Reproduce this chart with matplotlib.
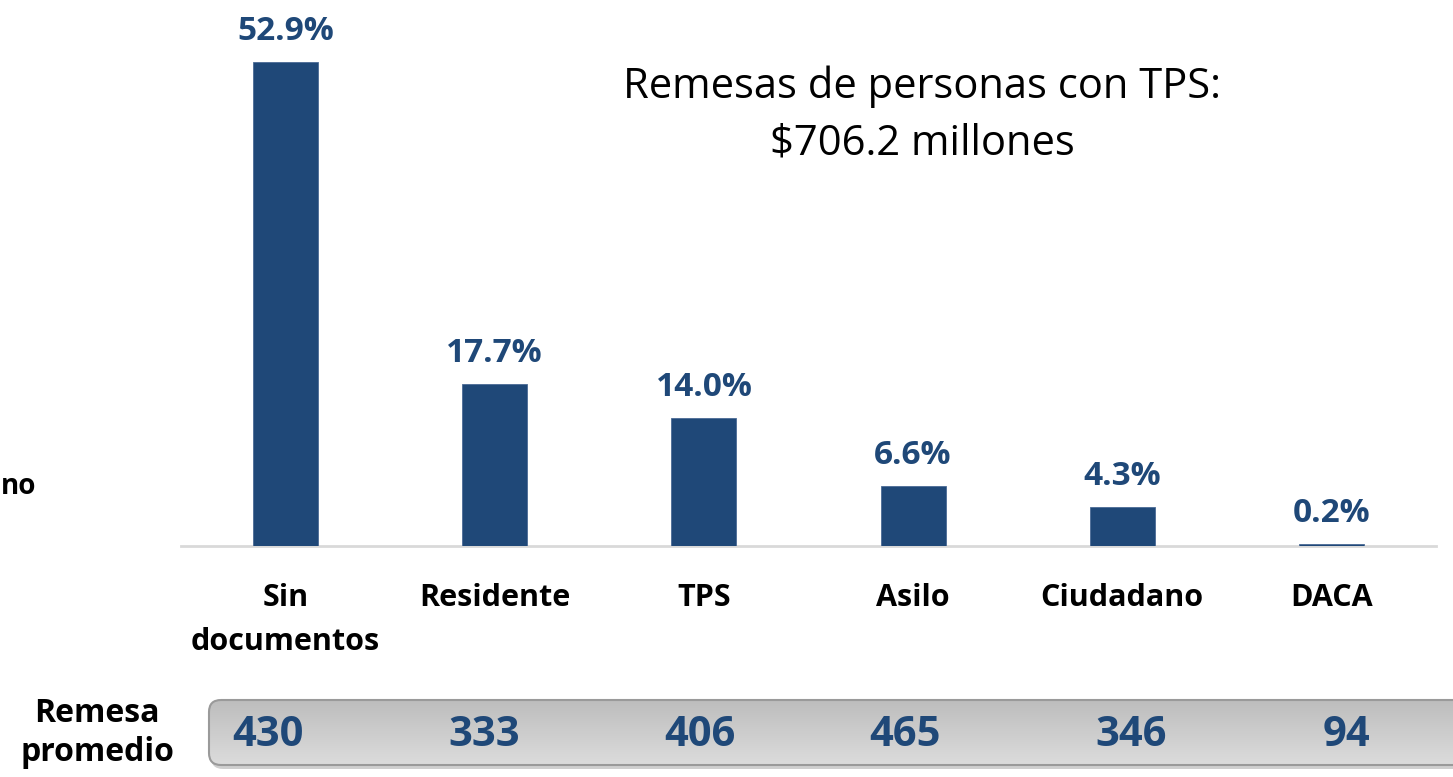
import matplotlib
matplotlib.use("Agg")
import matplotlib.pyplot as plt
import numpy as np
from matplotlib.patches import FancyBboxPatch
from matplotlib.colors import LinearSegmentedColormap

categories = ["Sin\ndocumentos", "Residente", "TPS", "Asilo", "Ciudadano", "DACA"]
shares = [52.9, 17.7, 14.0, 6.6, 4.3, 0.2]
share_labels = ["52.9%", "17.7%", "14.0%", "6.6%", "4.3%", "0.2%"]
avg_remit = [430, 333, 406, 465, 346, 94]
note = "Remesas de personas con TPS:\n$706.2 millones"

W, H = 1453, 777
BLUE = "#1F4878"
FONT = "Open Sans"
plt.rcParams["font.family"] = [FONT, "DejaVu Sans"]

fig = plt.figure(figsize=(W / 100, H / 100), dpi=100)
fig.patch.set_facecolor("white")

# main bar axes (pixel layout)
ax_left, ax_right, ax_base = 181, 1436, 546
ax = fig.add_axes([ax_left / W, (H - ax_base) / H, (ax_right - ax_left) / W, ax_base / H])
ax.set_facecolor("none")
x = np.arange(len(categories))
ax.bar(x, shares, width=0.31, color=BLUE, edgecolor="#4a6a95", linewidth=0.6, zorder=3)
ax.set_xlim(-0.5, len(categories) - 0.5)
ax.set_ylim(0, ax_base / 9.15)
for s in ["top", "right", "left"]:
    ax.spines[s].set_visible(False)
ax.spines["bottom"].set_color("#d9d9d9")
ax.spines["bottom"].set_linewidth(2)
ax.set_yticks([])
ax.set_xticks(x)
ax.set_xticklabels(categories, fontsize=22, fontweight="bold", color="black",
                   linespacing=1.6, va="top")
ax.tick_params(axis="x", length=0, pad=27)
for xi, v, lab in zip(x, shares, share_labels):
    ax.annotate(lab, (xi, v), xytext=(0, 10), textcoords="offset points",
                ha="center", va="bottom", fontsize=24, fontweight="bold", color=BLUE)

# overlay axes in pixel coordinates
ov = fig.add_axes([0, 0, 1, 1])
ov.set_xlim(0, W)
ov.set_ylim(H, 0)
ov.axis("off")
ov.set_facecolor("none")

ov.text(922, 115, note, ha="center", va="center", fontsize=30, color="black",
        linespacing=1.45)
ov.text(1, 486, "no", ha="left", va="center", fontsize=20, fontweight="bold", color="black")
ov.text(97, 733, "Remesa\npromedio", ha="center", va="center", fontsize=23,
        fontweight="bold", color="black", linespacing=1.25)

# rounded gray box with gradient and shadow
bx0, by0, bx1, by1 = 209, 700, 1480, 765
shadow = FancyBboxPatch((bx0 + 2, by0 + 4), bx1 - bx0, by1 - by0,
                        boxstyle="round,pad=0,rounding_size=12",
                        facecolor="#b0b0b0", edgecolor="none", alpha=0.6, zorder=1)
ov.add_patch(shadow)
box = FancyBboxPatch((bx0, by0), bx1 - bx0, by1 - by0,
                     boxstyle="round,pad=0,rounding_size=12",
                     facecolor="none", edgecolor="#9a9a9a", linewidth=1.5, zorder=3)
ov.add_patch(box)
grad = np.linspace(0, 1, 256).reshape(-1, 1)
cmap = LinearSegmentedColormap.from_list("g", ["#bdbdbd", "#dcdcdc"])
im = ov.imshow(grad, cmap=cmap, extent=(bx0, bx1, by1, by0), aspect="auto", zorder=2)
im.set_clip_path(box)
ov.set_xlim(0, W)
ov.set_ylim(H, 0)

num_x = [268, 484, 700, 905, 1131, 1346]
for xp, v in zip(num_x, avg_remit):
    ov.text(xp, 735, str(v), ha="center", va="center", fontsize=30,
            fontweight="bold", color=BLUE, zorder=4)

fig.savefig("out.png", dpi=100)
